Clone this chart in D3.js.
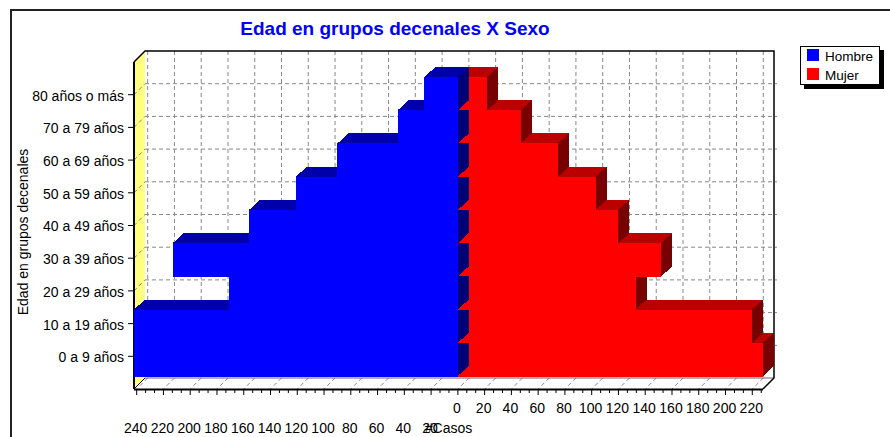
<!DOCTYPE html>
<html>
<head>
<meta charset="utf-8">
<script src="https://cdn.jsdelivr.net/npm/d3@7"></script>
<style>
body { margin: 0; background: #fff; }
svg text { font-family: "Liberation Sans", Arial, sans-serif; }
</style>
</head>
<body>
<div id="chart"></div>
<script>
// grupos de edad, de abajo hacia arriba
var categories = ["0 a 9 años", "10 a 19 años", "20 a 29 años", "30 a 39 años", "40 a 49 años",
    "50 a 59 años", "60 a 69 años", "70 a 79 años", "80 años o más"];
var hombre = [242, 242, 171, 213, 156, 121, 90, 45, 25];
var mujer = [228, 220, 133, 152, 120, 103, 75, 47, 22];
var seriesNames = ["Hombre", "Mujer"];
var tickValues = [-240, -220, -200, -180, -160, -140, -120, -100, -80, -60, -40, -20,
    0, 20, 40, 60, 80, 100, 120, 140, 160, 180, 200, 220];

var width = 890, height = 437;
var plotLeft = 134, plotRight = 763, plotTop = 62, plotBottom = 389;
var dx = 11, dy = -11;    // profundidad de las paredes
var bdx = 11, bdy = -10;  // profundidad de las barras

var svg = d3.select("#chart")
    .append("svg")
    .attr("width", width)
    .attr("height", height);

// marco exterior
svg.append("rect")
    .attr("x", 11).attr("y", 10)
    .attr("width", 920).attr("height", 460)
    .attr("fill", "none")
    .attr("stroke", "#222")
    .attr("stroke-width", 2);

var x = d3.scaleLinear().domain([-242, 228]).range([plotLeft, plotRight]);
var yLabel = d3.scalePoint().domain(categories).range([plotBottom, plotTop]).padding(1);
var yBar = d3.scaleBand().domain(categories).range([376, 77]);

var rows = categories.map(function (c, i) {
    return { cat: c, h: hombre[i], m: mujer[i], i: i };
});

function pts(a) {
    return a.map(function (p) { return p.join(","); }).join(" ");
}

// pared del fondo
svg.append("rect")
    .attr("x", plotLeft + dx).attr("y", plotTop + dy)
    .attr("width", plotRight - plotLeft).attr("height", plotBottom - plotTop)
    .attr("fill", "#fff");

// pared izquierda
svg.append("polygon")
    .attr("points", pts([[plotLeft, plotTop], [plotLeft + dx, plotTop + dy],
        [plotLeft + dx, plotBottom + dy], [plotLeft, plotBottom]]))
    .attr("fill", "#ffff80");

// piso
svg.append("polygon")
    .attr("points", pts([[plotLeft, plotBottom], [plotRight, plotBottom],
        [plotRight + dx, plotBottom + dy], [plotLeft + dx, plotBottom + dy]]))
    .attr("fill", "#fff");

var grid = svg.append("g")
    .attr("stroke", "#888")
    .attr("stroke-width", 1)
    .attr("stroke-dasharray", "4,3");

grid.selectAll(".hgrid")
    .data(categories)
    .enter()
    .append("line")
    .attr("x1", plotLeft + dx).attr("x2", plotRight + dx + 3)
    .attr("y1", function (d) { return yLabel(d) + dy; })
    .attr("y2", function (d) { return yLabel(d) + dy; });

grid.selectAll(".wgrid")
    .data(categories)
    .enter()
    .append("line")
    .attr("x1", plotLeft).attr("x2", plotLeft + dx)
    .attr("y1", function (d) { return yLabel(d); })
    .attr("y2", function (d) { return yLabel(d) + dy; });

grid.selectAll(".vgrid")
    .data(tickValues)
    .enter()
    .append("line")
    .attr("x1", function (d) { return x(d) + dx; })
    .attr("x2", function (d) { return x(d) + dx; })
    .attr("y1", plotTop + dy)
    .attr("y2", plotBottom + dy);

grid.selectAll(".fgrid")
    .data(tickValues)
    .enter()
    .append("line")
    .attr("x1", function (d) { return x(d) + dx; })
    .attr("x2", function (d) { return x(d); })
    .attr("y1", plotBottom + dy)
    .attr("y2", plotBottom);

// bordes
var edges = svg.append("g").attr("stroke", "#000").attr("fill", "none");
edges.append("line").attr("x1", plotLeft + dx).attr("x2", plotRight + dx)
    .attr("y1", plotBottom + dy).attr("y2", plotBottom + dy).attr("stroke", "#666");
edges.append("polyline")
    .attr("points", pts([[plotLeft, plotTop], [plotLeft + dx, plotTop + dy],
        [plotRight + dx, plotTop + dy], [plotRight + dx, plotBottom + dy], [plotRight, plotBottom]]))
    .attr("stroke-width", 1.5);
edges.append("line").attr("x1", plotLeft).attr("x2", plotLeft)
    .attr("y1", plotTop).attr("y2", plotBottom).attr("stroke-width", 2);
edges.append("line").attr("x1", plotLeft + dx).attr("x2", plotLeft)
    .attr("y1", plotBottom + dy).attr("y2", plotBottom).attr("stroke-width", 1);
edges.append("line").attr("x1", plotLeft).attr("x2", plotRight)
    .attr("y1", plotBottom + 0.5).attr("y2", plotBottom + 0.5).attr("stroke-width", 2);

// barras Mujer
var bw = yBar.bandwidth();
var red = svg.selectAll(".mujer")
    .data(rows)
    .enter()
    .append("g")
    .attr("class", "mujer")
    .attr("shape-rendering", "crispEdges");

red.append("rect")
    .attr("x", x(0))
    .attr("y", function (d) { return yBar(d.cat); })
    .attr("width", function (d) { return x(d.m) - x(0); })
    .attr("height", bw + 0.5)
    .attr("fill", "#ff0000");

red.append("polygon")
    .attr("points", function (d) {
        var y0 = yBar(d.cat), x0 = x(0), x1 = x(d.m);
        return pts([[x0, y0], [x1, y0], [x1 + bdx, y0 + bdy], [x0 + bdx, y0 + bdy]]);
    })
    .attr("fill", "#bb0000");

red.append("polygon")
    .attr("points", function (d) {
        var y0 = yBar(d.cat), x1 = x(d.m);
        return pts([[x1, y0], [x1 + bdx, y0 + bdy], [x1 + bdx, y0 + bw + bdy], [x1, y0 + bw]]);
    })
    .attr("fill", "#770000");

// barras Hombre
var blue = svg.selectAll(".hombre")
    .data(rows)
    .enter()
    .append("g")
    .attr("class", "hombre")
    .attr("shape-rendering", "crispEdges");

blue.append("rect")
    .attr("x", function (d) { return x(-d.h); })
    .attr("y", function (d) { return yBar(d.cat); })
    .attr("width", function (d) { return x(0) - x(-d.h); })
    .attr("height", bw + 0.5)
    .attr("fill", "#0000ff");

blue.append("polygon")
    .attr("points", function (d) {
        var y0 = yBar(d.cat), x0 = x(-d.h), x1 = x(0);
        return pts([[x0, y0], [x1, y0], [x1 + bdx, y0 + bdy], [x0 + bdx, y0 + bdy]]);
    })
    .attr("fill", "#0000aa");

blue.append("polygon")
    .attr("points", function (d) {
        var y0 = yBar(d.cat), x1 = x(0);
        var topY = d.i === rows.length - 1 ? y0 + bdy : y0;
        return pts([[x1, y0], [x1 + bdx, topY], [x1 + bdx, y0 + bw + bdy], [x1, y0 + bw]]);
    })
    .attr("fill", "#000077");

// eje X
var minorTicks = d3.range(-240, 228, 20 / 3);
svg.append("g")
    .selectAll("line")
    .data(minorTicks)
    .enter()
    .append("line")
    .attr("x1", function (d) { return x(d); })
    .attr("x2", function (d) { return x(d); })
    .attr("y1", plotBottom + 1)
    .attr("y2", function (d, i) { return i % 3 === 0 ? plotBottom + 6 : plotBottom + 4; })
    .attr("stroke", "#000");

svg.append("g")
    .selectAll("text")
    .data(tickValues)
    .enter()
    .append("text")
    .attr("x", function (d) { return x(d) - 1; })
    .attr("y", function (d) { return d < 0 ? 433 : 413; })
    .attr("text-anchor", "middle")
    .attr("font-size", 14)
    .text(function (d) { return Math.abs(d); });

svg.append("text")
    .attr("x", (plotLeft + plotRight) / 2)
    .attr("y", 433)
    .attr("text-anchor", "middle")
    .attr("font-size", 14)
    .text("#Casos");

// eje Y
svg.append("g")
    .selectAll("line")
    .data(categories)
    .enter()
    .append("line")
    .attr("x1", plotLeft - 6).attr("x2", plotLeft)
    .attr("y1", function (d) { return yLabel(d); })
    .attr("y2", function (d) { return yLabel(d); })
    .attr("stroke", "#000");

svg.append("g")
    .selectAll("text")
    .data(categories)
    .enter()
    .append("text")
    .attr("x", 124)
    .attr("y", function (d) { return yLabel(d) + 1; })
    .attr("dy", "0.35em")
    .attr("text-anchor", "end")
    .attr("font-size", 14)
    .text(function (d) { return d; });

svg.append("text")
    .attr("transform", "translate(28,232) rotate(-90)")
    .attr("text-anchor", "middle")
    .attr("font-size", 14)
    .text("Edad en grupos decenales");

// título
svg.append("text")
    .attr("x", 395)
    .attr("y", 35)
    .attr("text-anchor", "middle")
    .attr("font-size", 19)
    .attr("font-weight", "bold")
    .attr("fill", "#0000ff")
    .text("Edad en grupos decenales X Sexo");

// leyenda
var color = d3.scaleOrdinal().domain(seriesNames).range(["#0000ff", "#ff0000"]);
svg.append("rect")
    .attr("x", 804).attr("y", 50).attr("width", 80).attr("height", 39)
    .attr("fill", "#000");
svg.append("rect")
    .attr("x", 800.5).attr("y", 46.5).attr("width", 79).attr("height", 38)
    .attr("fill", "#fff").attr("stroke", "#000");

var legend = svg.selectAll(".legend")
    .data(seriesNames)
    .enter()
    .append("g")
    .attr("transform", function (d, i) {
        return "translate(807," + (49 + i * 19) + ")";
    });

legend.append("rect")
    .attr("width", 12).attr("height", 12)
    .attr("fill", function (d) { return color(d); });

legend.append("text")
    .attr("x", 18)
    .attr("y", 12)
    .attr("font-size", 13.5)
    .text(function (d) { return d; });
</script>
</body>
</html>
